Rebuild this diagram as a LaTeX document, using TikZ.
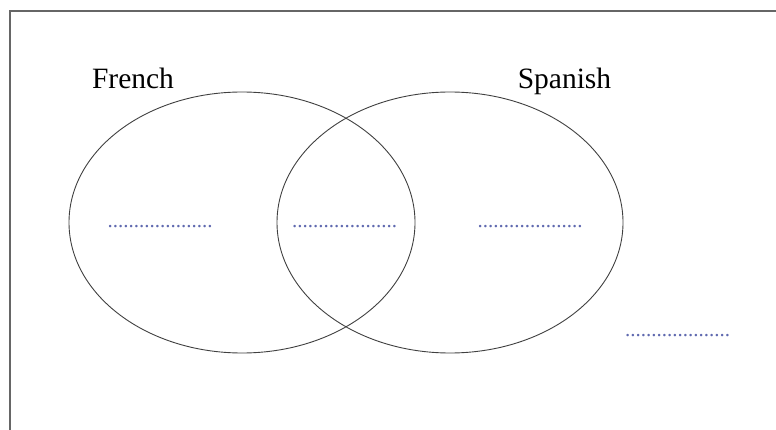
\documentclass[tikz,border=0pt]{standalone}
\usepackage{fontspec}
\setmainfont{Liberation Serif}
\usetikzlibrary{shapes.geometric}

\definecolor{dotblue}{RGB}{95,105,175}

\begin{document}
\begin{tikzpicture}[x=1pt,y=-1pt]

      \useasboundingbox (0,0) rectangle (776,430);
      \clip (0,0) rectangle (776,430);

      % Frame
      \draw[line width=1.3pt,color=black!60] (10,11) rectangle (800,450);

      % Sets
      \begin{scope}[every node/.style={ellipse,draw,line width=0.9pt,color=black!75,minimum width=346pt,minimum height=261pt,inner sep=0pt}]
        \node (french) at (242,222.5) {};
        \node (spanish) at (450,222.5) {};
      \end{scope}

      % Labels
      \begin{scope}[every node/.style={anchor=base,inner sep=0pt,font=\fontsize{29.5}{35}\selectfont}]
        \node (lfrench) at (133,89) {French};
        \node (lspanish) at (564.5,89) {Spanish};
      \end{scope}

      % Blanks
      \begin{scope}[every node/.style={anchor=base,inner sep=0pt,text=dotblue,font=\fontsize{21}{25}\selectfont}]
        \node (bfrench) at (160,227.5) {....................};
        \node (bboth) at (344.5,227.5) {....................};
        \node (bspanish) at (530,227.5) {....................};
        \node (bneither) at (677.5,336) {....................};
      \end{scope}

    \end{tikzpicture}
\end{document}
